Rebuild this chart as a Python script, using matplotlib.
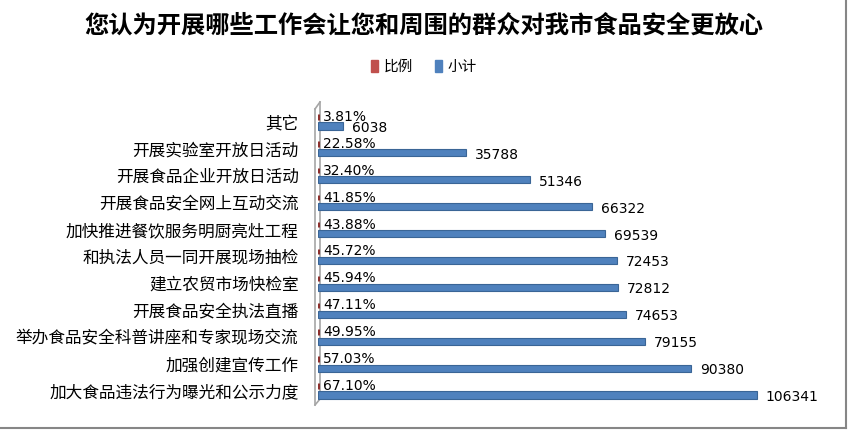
import matplotlib
matplotlib.use("Agg")
import matplotlib.pyplot as plt
from matplotlib.patches import Patch
from matplotlib.lines import Line2D

plt.rcParams['font.family'] = ['Noto Sans CJK SC', 'DejaVu Sans']

title = '您认为开展哪些工作会让您和周围的群众对我市食品安全更放心'
categories = ['其它', '开展实验室开放日活动', '开展食品企业开放日活动', '开展食品安全网上互动交流',
              '加快推进餐饮服务明厨亮灶工程', '和执法人员一同开展现场抽检', '建立农贸市场快检室',
              '开展食品安全执法直播', '举办食品安全科普讲座和专家现场交流', '加强创建宣传工作',
              '加大食品违法行为曝光和公示力度']
counts = [6038, 35788, 51346, 66322, 69539, 72453, 72812, 74653, 79155, 90380, 106341]
ratios = [3.81, 22.58, 32.40, 41.85, 43.88, 45.72, 45.94, 47.11, 49.95, 57.03, 67.10]
series_names = ['比例', '小计']

W, H = 848, 430
fig = plt.figure(figsize=(W / 100, H / 100), dpi=100)
ax = fig.add_axes([318 / W, 25 / H, 495 / W, 303 / H])
ax.patch.set_visible(False)

n = len(categories)
ypos = [n - 1 - i for i in range(n)]
red_y = [y + 0.186 for y in ypos]
blue_y = [y - 0.15 for y in ypos]

red = '#c0504d'
blue = '#4f81bd'

ax.barh(red_y, [r / 100 for r in ratios], height=0.2, color=red,
        edgecolor='#8c2f2c', linewidth=2.2, zorder=3)
ax.barh(blue_y, counts, height=0.27, color=blue, edgecolor='#3a6596', linewidth=0.8, zorder=3)

for r, y in zip(ratios, red_y):
    ax.annotate(f'{r:.2f}%', (r / 100, y), xytext=(5, 0), textcoords='offset pixels',
                ha='left', va='center', fontsize=10, family='DejaVu Sans', color='black')
for c, y in zip(counts, blue_y):
    ax.annotate(f'{c}', (c, y), xytext=(9, -2), textcoords='offset pixels',
                ha='left', va='center', fontsize=10, family='DejaVu Sans', color='black')

ax.set_xlim(0, 120000)
ax.set_ylim(-0.52, 10.74)
ax.set_yticks(ypos)
ax.set_yticklabels(categories, fontsize=12)
ax.tick_params(axis='y', length=0, pad=14)
ax.set_xticks([])
for s in ax.spines.values():
    s.set_visible(False)

# 3D wall on the left
def fl(x0, y0, x1, y1, color='#a6a6a6', lw=1.2, z=-1):
    fig.add_artist(Line2D([x0 / W, x1 / W], [1 - y0 / H, 1 - y1 / H],
                          transform=fig.transFigure, color=color, linewidth=lw, zorder=z))

fl(315, 109, 315, 405)
fl(320, 102, 320, 399)
fl(315, 109, 320, 102)
fl(315, 405, 320, 399)

# chart border
fl(846, 0, 846, 428, color='#868686', lw=1.5)
fl(0, 428, 846, 428, color='#868686', lw=1.5)

fig.text(0.5, 1 - 25 / H, title, ha='center', va='center', fontsize=17.5, fontweight='bold')

handles = [Patch(facecolor=red, edgecolor=red), Patch(facecolor=blue, edgecolor=blue)]
fig.legend(handles, series_names, loc='center', bbox_to_anchor=(0.5, 1 - 67 / H), ncol=2,
           frameon=False, fontsize=10.5, handlelength=0.45, handleheight=0.8,
           handletextpad=0.4, columnspacing=1.5)

fig.savefig('out.png', dpi=100)
